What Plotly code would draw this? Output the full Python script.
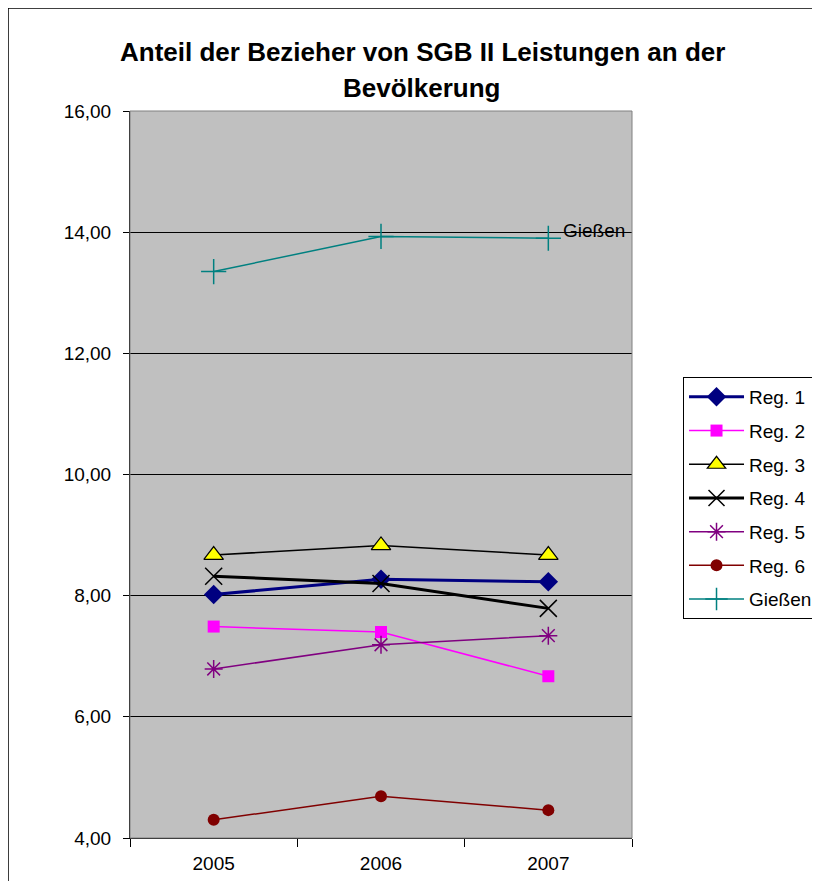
import plotly.graph_objects as go

years = ["2005", "2006", "2007"]
reg1 = [8.02, 8.27, 8.23]
reg2 = [7.49, 7.40, 6.67]
reg3 = [8.67, 8.83, 8.67]
reg4 = [8.32, 8.20, 7.79]
reg5 = [6.79, 7.19, 7.34]
reg6 = [4.30, 4.69, 4.46]
giessen = [13.35, 13.93, 13.90]
y_ticks = [4, 6, 8, 10, 12, 14, 16]
y_tick_labels = ["4,00", "6,00", "8,00", "10,00", "12,00", "14,00", "16,00"]

FONT = "Liberation Sans, Arial, sans-serif"

series = [
    ("Reg. 1", reg1, dict(color="#000080", width=3), dict(symbol="diamond", size=15, color="#000080")),
    ("Reg. 2", reg2, dict(color="#FF00FF", width=1.5), dict(symbol="square", size=12, color="#FF00FF")),
    ("Reg. 3", reg3, dict(color="#000000", width=1.5), dict(symbol="triangle-up", size=17, color="#FFFF00", line=dict(color="#000000", width=1.2))),
    ("Reg. 4", reg4, dict(color="#000000", width=3), dict(symbol="x-thin", size=17, color="#000000", line=dict(color="#000000", width=1.5))),
    ("Reg. 5", reg5, dict(color="#800080", width=1.5), dict(symbol="asterisk-open", size=15, color="#800080", line=dict(color="#800080", width=1.5))),
    ("Reg. 6", reg6, dict(color="#800000", width=1.5), dict(symbol="circle", size=12, color="#800000")),
    ("Gießen", giessen, dict(color="#008080", width=1.5), dict(symbol="cross-thin", size=18, color="#008080", line=dict(color="#008080", width=1.5))),
]

fig = go.Figure()
for name, vals, line, marker in series:
    fig.add_trace(go.Scatter(x=years, y=vals, name=name, legendgroup=name, mode="lines+markers",
                             line=line, marker=marker, cliponaxis=False))

fig.update_layout(
    width=812, height=873,
    margin=dict(l=122, r=188, t=103, b=43, autoexpand=False),
    paper_bgcolor="white",
    plot_bgcolor="#C0C0C0",
    font=dict(family=FONT, size=19, color="#000000"),
    showlegend=True,
    legend=dict(xref="container", yref="container", x=0.8313, y=0.5773, xanchor="left", yanchor="top",
                bordercolor="#000000", borderwidth=1, bgcolor="white",
                font=dict(family=FONT, size=19), itemwidth=55, tracegroupgap=6),
    xaxis=dict(type="category", range=[-0.5, 2.5], showgrid=False, ticks="outside", tickson="boundaries",
               ticklen=8, tickcolor="#000000", showline=True, linecolor="#000000", linewidth=1,
               tickfont=dict(size=19), zeroline=False, ticklabelstandoff=8),
    yaxis=dict(range=[4, 16], tickvals=y_ticks, ticktext=y_tick_labels, showgrid=True,
               gridcolor="#000000", gridwidth=1, ticks="outside", ticklen=6, tickcolor="#000000",
               showline=True, linecolor="#000000", linewidth=1, tickfont=dict(size=19), zeroline=False,
               ticklabelstandoff=8),
    annotations=[
        dict(text="<b>Anteil der Bezieher von SGB II Leistungen an der</b>", xref="paper", yref="paper",
             x=0.5817, y=1.081, xanchor="center", yanchor="middle", showarrow=False, font=dict(size=26)),
        dict(text="<b>Bevölkerung</b>", xref="paper", yref="paper",
             x=0.5817, y=1.0316, xanchor="center", yanchor="middle", showarrow=False, font=dict(size=26)),
        dict(text="Gießen", x=len(years) - 1, y=giessen[-1], xref="x", yref="y", xanchor="left", yanchor="middle",
             xshift=13, yshift=8, showarrow=False, font=dict(family=FONT, size=19, color="#000000")),
    ],
    shapes=[
        dict(type="rect", xref="paper", yref="paper", x0=0, x1=1, y0=0, y1=1,
             line=dict(color="#808080", width=1), layer="above"),
        dict(type="line", xref="paper", yref="paper", x0=-0.243, x1=-0.243, y0=-0.2, y1=1.1417,
             line=dict(color="#000000", width=1.5)),
        dict(type="line", xref="paper", yref="paper", x0=-0.243, x1=1.3645, y0=1.1417, y1=1.1417,
             line=dict(color="#000000", width=1.5)),
        dict(type="line", xref="paper", yref="paper", x0=1.3645, x1=1.3645, y0=-0.2, y1=1.1417,
             line=dict(color="#000000", width=1.5)),
    ],
)

fig.write_html("out.html")
